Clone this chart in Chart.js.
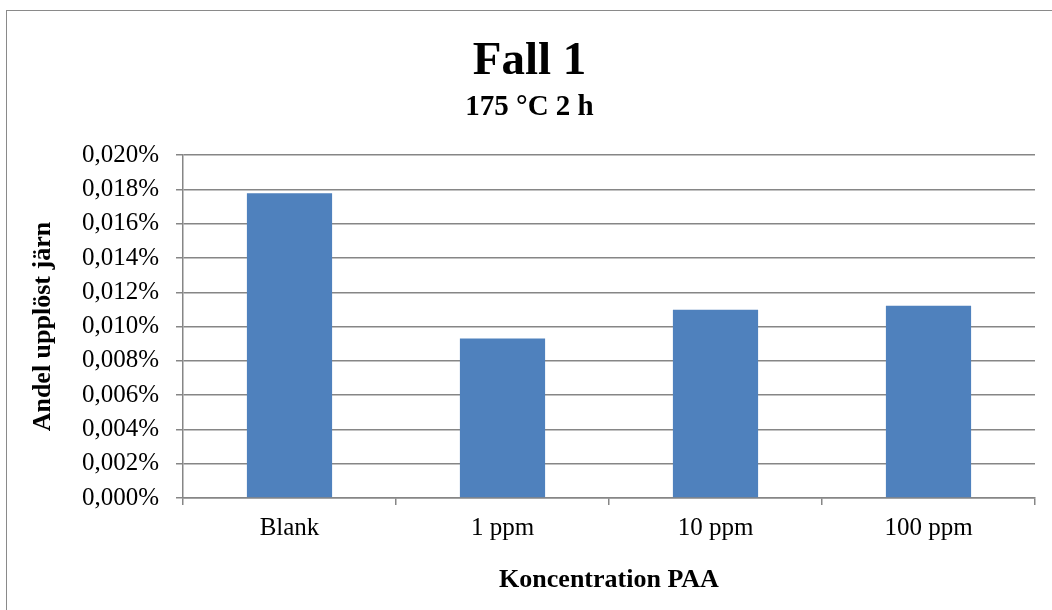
<!DOCTYPE html>
<html>
<head>
<meta charset="utf-8">
<script src="https://cdn.jsdelivr.net/npm/chart.js@4/dist/chart.umd.min.js"></script>
<style>
html,body{margin:0;padding:0;background:#fff;overflow:hidden;}
#wrap{position:relative;width:1052px;height:610px;}
#frame{position:absolute;left:6px;top:10px;width:2000px;height:2000px;border:1.5px solid #8a8a8a;pointer-events:none;}
canvas{position:absolute;left:0;top:0;}
</style>
</head>
<body>
<div id="wrap">
<div id="frame"></div>
<canvas id="c" width="1052" height="610"></canvas>
</div>
<script>
const categories = ["Blank", "1 ppm", "10 ppm", "100 ppm"];
const values = [0.01778, 0.00931, 0.01098, 0.01121];
const yMin = 0, yMax = 0.020, yStep = 0.002;
const titleText = "Fall 1";
const subtitleText = "175 \u00B0C 2 h";
const xTitle = "Koncentration PAA";
const yTitle = "Andel upplöst järn";

const FONT = "'Liberation Serif', 'Times New Roman', serif";
const GRID = "#868686";

new Chart(document.getElementById('c'), {
  type: 'bar',
  data: {
    labels: categories,
    datasets: [{
      data: values,
      backgroundColor: '#4F81BD',
      borderWidth: 0,
      barPercentage: 0.4,
      categoryPercentage: 1.0
    }]
  },
  options: {
    responsive: false,
    animation: false,
    layout: { padding: { left: 24, right: 17, top: 0, bottom: 10 } },
    plugins: {
      legend: { display: false },
      tooltip: { enabled: false },
      title: {
        display: true, text: titleText, color: '#000',
        font: { family: FONT, size: 47, weight: 'bold' },
        padding: { top: 34, bottom: 0 }
      },
      subtitle: {
        display: true, text: subtitleText, color: '#000',
        font: { family: FONT, size: 29, weight: 'bold' },
        padding: { top: 0, bottom: 30 }
      }
    },
    scales: {
      x: {
        grid: { display: true, offset: true, drawOnChartArea: false, drawTicks: true, tickLength: 7, color: GRID, lineWidth: 1.5 },
        border: { display: true, color: GRID, width: 1.5 },
        ticks: { color: '#000', font: { family: FONT, size: 25 }, padding: 8, maxRotation: 0 },
        title: { display: true, text: xTitle, color: '#000', font: { family: FONT, size: 26, weight: 'bold' }, padding: { top: 4, bottom: 4 } },
        afterFit: s => { s.height = 102; }
      },
      y: {
        min: yMin, max: yMax,
        ticks: {
          stepSize: yStep, color: '#000', font: { family: FONT, size: 25 }, padding: 17,
          callback: v => v.toFixed(3).replace('.', ',') + '%'
        },
        grid: { display: true, drawOnChartArea: true, drawTicks: true, tickLength: 7, color: GRID, lineWidth: 1.5 },
        border: { display: true, color: GRID, width: 1.5 },
        title: { display: true, text: yTitle, color: '#000', font: { family: FONT, size: 26, weight: 'bold' }, padding: { top: 4, bottom: 4 } },
        afterFit: s => { s.width = 159; }
      }
    }
  }
});
</script>
</body>
</html>
